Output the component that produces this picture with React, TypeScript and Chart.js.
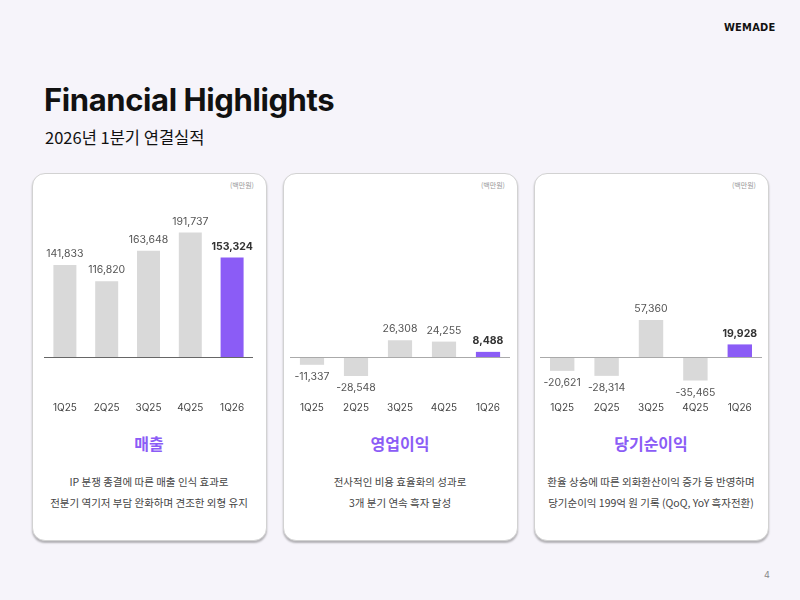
import React, { useEffect, useRef } from "react";
import { Chart, registerables } from "chart.js";

Chart.register(...registerables);

const quarters = ["1Q25", "2Q25", "3Q25", "4Q25", "1Q26"];
const revenue = [141833, 116820, 163648, 191737, 153324];
const operatingProfit = [-11337, -28548, 26308, 24255, 8488];
const netIncome = [-20621, -28314, 57360, -35465, 19928];

const cardTitles = ["매출", "영업이익", "당기순이익"];
const cardTexts = [
  ["IP 분쟁 종결에 따른 매출 인식 효과로", "전분기 역기저 부담 완화하며 견조한 외형 유지"],
  ["전사적인 비용 효율화의 성과로", "3개 분기 연속 흑자 달성"],
  ["환율 상승에 따른 외화환산이익 증가 등 반영하며", "당기순이익 199억 원 기록 (QoQ, YoY 흑자전환)"],
];
const unitLabel = "(백만원)";

const GRAY = "#d9d9d9";
const PURPLE = "#8b5cf6";
const KR = "'Noto Sans CJK KR', 'Noto Sans', sans-serif";
const NUM = "Inter, 'Noto Sans', sans-serif";

const fmt = (v: number) => (v < 0 ? "-" : "") + Math.abs(v).toLocaleString("en-US");

const labelPlugin = {
  id: "valueLabels",
  afterDatasetsDraw(chart: any) {
    const ctx = chart.ctx;
    const meta = chart.getDatasetMeta(0);
    const data = chart.data.datasets[0].data as number[];
    const yScale = chart.scales.y;
    const area = chart.chartArea;
    const zero = yScale.getPixelForValue(0);
    ctx.save();
    ctx.strokeStyle = chart.options.plugins.valueLabels.lineColor;
    ctx.lineWidth = 1;
    ctx.beginPath();
    ctx.moveTo(area.left, Math.round(zero) + 0.5);
    ctx.lineTo(area.right, Math.round(zero) + 0.5);
    ctx.stroke();
    ctx.textAlign = "center";
    ctx.textBaseline = "middle";
    meta.data.forEach((bar: any, i: number) => {
      const v = data[i];
      const last = i === data.length - 1;
      ctx.font = (last ? "bold 10.5px " : "10.5px ") + NUM;
      ctx.fillStyle = last ? "#333333" : "#555555";
      const y = v >= 0 ? bar.y - 11 : bar.y + 12;
      ctx.fillText(fmt(v), bar.x, y);
    });
    ctx.restore();
  },
};

function BarCard({ values, padL, padR, lineColor }: { values: number[]; padL: number; padR: number; lineColor: string }) {
  const ref = useRef<HTMLCanvasElement | null>(null);
  useEffect(() => {
    if (!ref.current) return;
    const chart = new Chart(ref.current, {
      type: "bar",
      data: {
        labels: quarters,
        datasets: [
          {
            data: values,
            backgroundColor: values.map((_, i) => (i === values.length - 1 ? PURPLE : GRAY)),
            barPercentage: 0.55,
            categoryPercentage: 1,
          },
        ],
      },
      options: {
        animation: false,
        responsive: false,
        maintainAspectRatio: false,
        layout: { padding: { left: padL, right: padR, top: 0, bottom: 0 } },
        plugins: {
          legend: { display: false },
          tooltip: { enabled: false },
          valueLabels: { lineColor },
        } as any,
        scales: {
          x: {
            grid: { display: false, drawTicks: false },
            border: { display: false },
            ticks: { color: "#444", font: { family: NUM, size: 10 }, padding: 12 },
          },
          y: {
            display: false,
            min: -50000,
            max: 220000,
          },
        },
      },
      plugins: [labelPlugin],
    });
    return () => chart.destroy();
  }, []);
  return <canvas ref={ref} width={235} height={212} style={{ position: "absolute", left: 0, top: 41, width: 235, height: 212 }} />;
}

const cardLefts = [32, 283, 534];
const seriesList = [revenue, operatingProfit, netIncome];
const pads = [
  { l: 12, r: 14, c: "#666666" },
  { l: 7, r: 8, c: "#aaaaaa" },
  { l: 6, r: 7, c: "#aaaaaa" },
];

export default function App() {
  return (
    <div
      style={{
        position: "fixed",
        left: 0,
        top: 0,
        width: 800,
        height: 600,
        background: "#f6f4fa",
        overflow: "hidden",
        fontFamily: KR,
      }}
    >
      <div
        style={{
          position: "absolute",
          left: 724,
          top: 20,
          fontFamily: "'DejaVu Sans Condensed', 'DejaVu Sans', sans-serif",
          fontWeight: 700,
          fontSize: 11,
          lineHeight: "16px",
          color: "#111",
          letterSpacing: 0.2,
        }}
      >
        WEMADE
      </div>
      <div
        style={{
          position: "absolute",
          left: 44,
          top: 80,
          fontFamily: "Inter, sans-serif",
          fontWeight: 700,
          fontSize: 31,
          lineHeight: "40px",
          color: "#111",
          letterSpacing: -0.4,
        }}
      >
        Financial Highlights
      </div>
      <div
        style={{
          position: "absolute",
          left: 45,
          top: 126,
          fontFamily: KR,
          fontWeight: 400,
          fontSize: 16.5,
          lineHeight: "22px",
          color: "#111",
        }}
      >
        2026년 1분기 연결실적
      </div>
      {cardLefts.map((left, k) => (
        <div
          key={k}
          style={{
            position: "absolute",
            left,
            top: 173,
            width: 235,
            height: 368,
            boxSizing: "border-box",
            background: "#ffffff",
            border: "1.5px solid #d2d2d2",
            borderRadius: 13,
            boxShadow: "0 2px 2px rgba(0,0,0,0.28)",
          }}
        >
          <div
            style={{
              position: "absolute",
              right: 12,
              top: 6,
              fontSize: 7,
              lineHeight: "10px",
              color: "#999",
            }}
          >
            {unitLabel}
          </div>
          <div style={{ position: "absolute", left: -1.5, top: -1.5, width: 235, height: 368 }}>
            <BarCard values={seriesList[k]} padL={pads[k].l} padR={pads[k].r} lineColor={pads[k].c} />
            <div
              style={{
                position: "absolute",
                left: 0,
                width: 235,
                top: 258,
                textAlign: "center",
                fontSize: 16,
                fontWeight: 700,
                lineHeight: "24px",
                color: PURPLE,
              }}
            >
              {cardTitles[k]}
            </div>
            <div
              style={{
                position: "absolute",
                left: 0,
                width: 235,
                top: 298,
                textAlign: "center",
                fontSize: 10.5,
                lineHeight: "21px",
                color: "#444",
              }}
            >
              {cardTexts[k].map((t, j) => (
                <div key={j}>{t}</div>
              ))}
            </div>
          </div>
        </div>
      ))}
      <div
        style={{
          position: "absolute",
          left: 764,
          top: 568,
          fontSize: 9,
          lineHeight: "14px",
          color: "#888",
          fontFamily: NUM,
        }}
      >
        4
      </div>
    </div>
  );
}
